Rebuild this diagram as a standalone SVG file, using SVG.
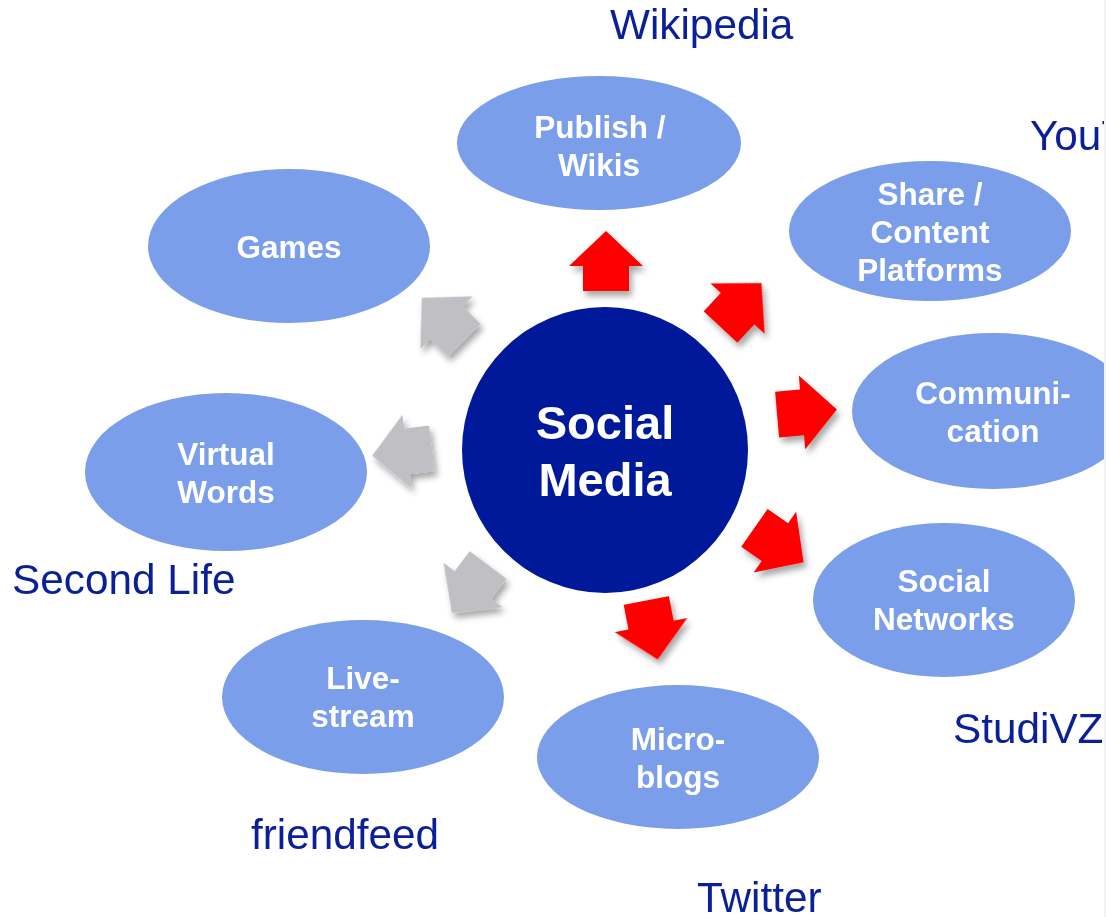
<svg xmlns="http://www.w3.org/2000/svg" width="1106" height="917" viewBox="0 0 1106 917">
  <defs>
    <style>
      .bubble { fill: #7B9EEA; }
      .hub { fill: #00189A; }
      .lbl { font-family: "Liberation Sans", Arial, sans-serif; font-weight: bold; font-size: 31.5px; fill: #FFFFFF; text-anchor: middle; }
      .hublbl { font-family: "Liberation Sans", Arial, sans-serif; font-weight: bold; font-size: 47px; fill: #FFFFFF; text-anchor: middle; }
      .ex { font-family: "Liberation Sans", Arial, sans-serif; font-size: 42.3px; fill: #0B1F96; }
      .red { fill: #FF0000; }
      .grey { fill: #BFBFC4; }
    </style>
    <clipPath id="page">
      <rect x="0" y="0" width="1104" height="917"/>
    </clipPath>
    <filter id="shadow" x="-30%" y="-30%" width="160%" height="160%">
      <feDropShadow dx="3" dy="5" stdDeviation="3" flood-color="#000000" flood-opacity="0.35"/>
    </filter>
    <!-- block arrow pointing up, centred on the origin -->
    <path id="blockArrow" d="M0,-30 L37,5 L23,5 L23,30 L-23,30 L-23,5 L-37,5 Z"/>
  </defs>

  <rect width="1106" height="917" fill="#FFFFFF"/>
  <rect x="1104" y="0" width="2" height="917" fill="#F2F2F2"/>

  <g clip-path="url(#page)">
    <!-- connectors: block arrows radiating from the hub -->
    <g id="connectors" filter="url(#shadow)">
      <use href="#blockArrow" class="red" transform="translate(606,261) rotate(0)"/>
      <use href="#blockArrow" class="red" transform="translate(741,305) rotate(43)"/>
      <use href="#blockArrow" class="red" transform="translate(807,412) rotate(85)"/>
      <use href="#blockArrow" class="red" transform="translate(779,545) rotate(125)"/>
      <use href="#blockArrow" class="red" transform="translate(652,630) rotate(169)"/>
      <use href="#blockArrow" class="grey" transform="translate(470,589) rotate(217)"/>
      <use href="#blockArrow" class="grey" transform="translate(402,452) rotate(263)"/>
      <use href="#blockArrow" class="grey" transform="translate(443,319) rotate(315)"/>
    </g>

    <g id="hub">
      <circle class="hub" cx="605" cy="450" r="143"/>
      <text class="hublbl" x="605" y="439">Social</text>
      <text class="hublbl" x="605" y="496">Media</text>
    </g>

    <g id="publish">
      <ellipse class="bubble" cx="599" cy="143" rx="142" ry="67"/>
      <text class="lbl" x="600" y="138">Publish /</text>
      <text class="lbl" x="599" y="176">Wikis</text>
    </g>

    <g id="share">
      <ellipse class="bubble" cx="930" cy="231" rx="141" ry="70"/>
      <text class="lbl" x="930" y="205">Share /</text>
      <text class="lbl" x="930" y="243">Content</text>
      <text class="lbl" x="930" y="281">Platforms</text>
    </g>

    <g id="communication">
      <ellipse class="bubble" cx="993" cy="411" rx="141" ry="78"/>
      <text class="lbl" x="993" y="404">Communi-</text>
      <text class="lbl" x="993" y="442">cation</text>
    </g>

    <g id="social-networks">
      <ellipse class="bubble" cx="944" cy="600" rx="131" ry="77"/>
      <text class="lbl" x="944" y="592">Social</text>
      <text class="lbl" x="944" y="630">Networks</text>
    </g>

    <g id="microblogs">
      <ellipse class="bubble" cx="678" cy="757" rx="141" ry="72"/>
      <text class="lbl" x="678" y="750">Micro-</text>
      <text class="lbl" x="678" y="788">blogs</text>
    </g>

    <g id="livestream">
      <ellipse class="bubble" cx="363" cy="697" rx="141" ry="77"/>
      <text class="lbl" x="363" y="689">Live-</text>
      <text class="lbl" x="363" y="727">stream</text>
    </g>

    <g id="virtual-words">
      <ellipse class="bubble" cx="226" cy="472" rx="141" ry="79"/>
      <text class="lbl" x="226" y="465">Virtual</text>
      <text class="lbl" x="226" y="503">Words</text>
    </g>

    <g id="games">
      <ellipse class="bubble" cx="289" cy="246" rx="141" ry="77"/>
      <text class="lbl" x="289" y="258">Games</text>
    </g>

    <!-- example services -->
    <g id="examples">
      <text class="ex" x="610" y="39">Wikipedia</text>
      <text class="ex" x="1030" y="150">YouTube</text>
      <text class="ex" x="12" y="594">Second Life</text>
      <text class="ex" x="251" y="849">friendfeed</text>
      <text class="ex" x="697" y="912">Twitter</text>
      <text class="ex" x="953" y="743">StudiVZ</text>
    </g>
  </g>
</svg>
